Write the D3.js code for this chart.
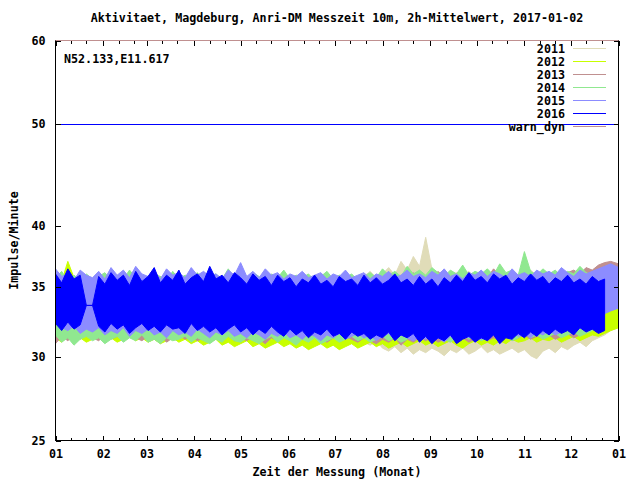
<!DOCTYPE html>
<html><head><meta charset="utf-8">
<script src="https://cdn.jsdelivr.net/npm/d3@7"></script>
<style>
html,body{margin:0;padding:0;background:#fff;}
svg text{font-family:"DejaVu Sans Mono","Liberation Mono",monospace;font-weight:bold;font-size:11.7px;fill:#000;}
</style></head>
<body>
<svg id="c" width="640" height="480"></svg>
<script>
// ---- data ----
const titleText = "Aktivitaet, Magdeburg, Anri-DM Messzeit 10m, 2h-Mittelwert, 2017-01-02";
const yLabel = "Impulse/Minute";
const xLabel = "Zeit der Messung (Monat)";
const station = "N52.133,E11.617";
const yTicks = [25, 30, 35, 40, 50, 60];
const monthStarts = [0,31,59,90,120,151,181,212,243,273,304,334,365];
const monthLabels = ["01","02","03","04","05","06","07","08","09","10","11","12","01"];
const sampleDays = [0,4,8,12,16,20,24,28,32,36,40,44,48,52,56,60,64,68,72,76,80,84,88,92,96,100,104,108,112,116,120,124,128,132,136,140,144,148,152,156,160,164,168,172,176,180,184,188,192,196,200,204,208,212,216,220,224,228,232,236,240,244,248,252,256,260,264,268,272,276,280,284,288,292,296,300,304,308,312,316,320,324,328,332,336,340,344,348,352,356,360,365];
const seriesNames = ["2011","2012","2013","2014","2015","2016"];
const warnLevel = 50;
const warnDyn = 60;

// upper / lower envelope of the 2h means per 4-day sample
const hi2011 = [35.3,35.0,35.4,35.1,35.2,34.9,35.3,35.0,35.2,35.1, 34.9,35.3,35.0,35.2,34.8,35.1,35.3,35.0,35.2,34.9, 35.1,35.3,35.0,35.2,34.9,35.1,35.4,35.0,35.2,35.1, 35.3,35.0,35.2,34.9,35.1,35.3,35.0,35.2,35.4,35.1, 35.3,35.5,35.2,35.4,35.6,35.3,35.5,35.7,35.4,35.6, 35.8,36.2,35.7,36.0,36.5,35.9,37.0,36.3,37.4,36.6, 39.0,36.4,36.0,36.3,35.8,36.1,35.9,36.2,35.7,36.0, 35.8,36.1,35.7,35.9,36.2,35.8,36.0,36.3,35.9,36.1, 35.8,36.0,35.7,35.9,35.6,35.8,35.5,35.7,35.4,35.6, 35.5,35.4];
const lo2011 = [31.8,31.6,31.9,31.7,32.0,31.8,31.6,31.9,31.7,31.8, 31.6,31.9,31.7,31.8,31.5,31.7,31.9,31.6,31.8,31.5, 31.7,31.4,31.6,31.8,31.5,31.3,31.6,31.4,31.7,31.3, 31.5,31.3,31.6,31.2,31.4,31.1,31.3,31.0,31.2,31.4, 31.1,31.3,31.0,31.2,30.9,31.1,31.3,31.0,31.2,30.9, 31.0,30.8,31.1,30.6,30.4,30.7,30.3,30.6,30.2,30.5, 30.3,30.6,30.4,30.1,30.5,30.3,30.6,30.2,30.4,30.7, 30.3,30.5,30.2,30.4,30.6,30.3,30.5,30.1,29.9,30.4, 30.6,30.3,30.7,30.5,30.8,31.0,30.7,31.1,31.3,31.5, 31.8,32.0];
const hi2012 = [35.6,35.4,37.0,35.7,35.3,35.5,35.2,35.6,35.4,35.3, 35.5,35.2,35.6,35.3,35.5,35.4,35.2,35.6,35.3,35.5, 35.2,35.4,35.6,35.3,35.5,35.2,35.4,35.3,35.6,35.2, 35.4,35.3,35.5,35.2,35.4,35.6,35.3,35.2,35.5,35.3, 35.2,35.4,35.3,35.5,35.2,35.4,35.1,35.3,35.5,35.2, 35.4,35.2,35.5,35.3,35.1,35.4,35.2,35.5,35.3,35.4, 35.2,35.5,35.3,35.4,35.6,35.3,35.5,35.2,35.4,35.6, 35.3,35.5,35.7,35.4,35.6,35.3,35.5,35.7,35.4,35.6, 35.5,35.7,35.4,35.6,35.8,35.5,35.7,35.9,36.0,36.1, 36.2,36.0];
const lo2012 = [31.3,31.0,31.4,31.1,31.3,31.0,31.2,31.4,31.1,31.3, 31.0,31.2,31.4,31.1,31.3,31.0,31.2,30.9,31.1,31.3, 31.0,31.2,30.9,31.1,30.8,31.0,31.2,30.8,31.0,30.7, 30.9,31.1,30.7,30.9,30.6,30.8,31.0,30.7,30.9,30.6, 30.8,30.5,30.7,30.9,30.6,30.8,30.5,30.7,30.9,30.6, 30.8,31.0,30.7,30.9,30.6,30.8,31.0,30.7,30.9,31.1, 30.8,31.0,30.7,30.9,31.1,30.8,30.6,30.9,31.1,30.8, 31.0,30.8,31.1,30.9,31.2,31.0,31.1,31.3,31.0,31.2, 31.1,31.3,31.0,31.2,31.4,31.1,31.3,31.5,31.4,31.6, 31.8,32.0];
const hi2013 = [35.5,35.2,35.6,35.3,35.7,35.4,35.2,35.6,35.3,35.5, 35.2,35.7,35.4,35.5,35.2,35.6,35.3,35.8,35.4,35.5, 35.3,35.6,35.2,35.5,35.7,35.3,35.6,35.4,35.2,35.5, 35.8,35.4,35.6,35.3,35.5,35.2,35.7,35.4,35.6,35.3, 35.5,35.7,35.3,35.6,35.4,35.2,35.6,35.4,35.7,35.3, 35.5,35.8,35.4,35.6,36.0,35.5,35.7,35.4,36.1,35.6, 35.8,35.5,36.2,35.7,35.9,35.6,36.3,35.8,35.6,36.0, 35.7,36.4,35.9,35.6,36.0,35.8,36.1,35.7,35.9,36.2, 35.8,36.0,35.7,36.1,36.3,36.0,36.5,36.3,36.7,36.9, 37.0,36.8];
const lo2013 = [30.9,31.4,31.1,31.5,31.2,31.6,31.3,31.1,31.5,31.2, 31.4,31.2,31.6,31.3,31.1,31.4,31.2,31.5,31.0,31.3, 31.5,31.2,31.4,31.1,31.3,31.0,31.4,31.2,31.5,31.1, 31.3,31.1,31.4,31.2,30.9,31.3,31.1,31.4,31.2,31.0, 31.3,31.1,31.4,31.2,31.0,31.3,31.1,31.4,31.2,31.0, 31.3,31.1,30.9,31.2,31.0,31.3,30.8,31.2,31.0,31.3, 31.1,31.3,31.0,31.2,31.4,31.1,31.3,31.0,31.2,31.4, 31.1,31.3,31.2,31.4,31.1,31.3,31.5,31.2,31.4,31.3, 31.5,31.2,31.4,31.6,31.3,31.5,31.7,32.0,32.8,33.6, 34.2,34.5];
const hi2014 = [35.7,36.2,35.4,35.9,35.5,36.0,35.6,35.8,36.1,35.5, 35.9,35.6,36.3,35.7,35.9,35.4,36.0,35.8,35.5,36.2, 35.6,35.9,35.7,36.1,35.5,35.8,36.0,35.6,36.4,35.7, 35.9,35.6,36.1,35.8,35.5,36.0,35.7,36.3,35.6,35.9, 35.7,36.0,35.5,35.8,36.2,35.6,35.9,35.7,36.0,35.5, 35.8,36.1,35.7,36.4,35.9,36.2,35.8,36.6,36.0,36.3, 35.9,36.5,36.1,35.8,36.3,36.0,36.7,35.9,36.2,36.0, 36.4,35.9,36.8,36.1,36.3,35.9,37.8,36.2,35.9,36.4, 36.0,36.3,35.8,36.2,36.0,36.6,36.1,35.9,36.2,35.8, 36.0,35.7];
const lo2014 = [31.5,31.0,31.3,30.8,31.2,31.4,31.1,31.3,30.9,31.2, 31.4,31.0,31.3,31.1,31.5,31.0,31.2,30.9,31.3,31.1, 31.2,31.4,31.0,31.3,31.1,30.9,31.2,31.0,31.4,31.1, 31.0,31.3,31.1,30.9,31.2,31.4,31.0,31.3,31.1,30.8, 31.2,31.0,31.3,30.9,31.1,31.3,31.0,31.2,31.4,31.1, 31.3,31.0,31.2,31.4,31.1,31.3,31.0,31.2,31.5,31.1, 31.3,31.1,31.4,31.2,31.0,31.3,31.5,31.2,31.4,31.1, 31.3,31.5,31.2,31.4,31.1,31.3,31.6,31.3,31.5,31.2, 31.4,31.6,31.3,31.5,31.7,31.4,31.6,31.8,32.4,33.2, 33.6,33.9];
const hi2015 = [36.4,35.8,36.0,35.5,36.3,35.9,35.7,36.2,35.6,36.5, 35.9,36.3,35.7,36.6,36.0,35.8,36.2,35.6,36.4,35.9, 36.1,35.7,36.5,35.9,36.2,35.8,36.0,35.6,36.3,35.9, 36.9,35.8,36.2,35.7,36.4,35.9,36.1,35.6,36.0,35.8, 36.2,35.7,35.9,36.1,35.6,36.0,35.8,36.3,35.7,35.9, 36.1,35.6,36.0,35.8,36.2,35.7,35.9,36.3,35.8,36.0, 35.7,36.2,35.9,36.4,35.8,36.0,35.6,36.1,35.9,36.3, 35.8,36.2,36.0,35.7,36.4,35.9,36.1,35.8,36.3,36.0, 36.2,35.9,36.5,36.1,35.8,36.3,36.0,36.2,36.4,36.6, 36.8,36.5];
const lo2015 = [32.8,32.0,31.8,32.1,31.6,31.9,31.7,32.0,31.5,31.8, 31.6,32.0,31.4,31.8,31.6,31.9,31.5,31.7,31.3,31.8, 31.5,31.7,31.4,31.9,31.6,31.3,31.7,31.5,31.8,31.4, 31.6,31.3,31.7,31.5,31.2,31.6,31.4,31.7,31.3,31.5, 31.2,31.6,31.4,31.1,31.5,31.3,31.6,31.2,31.4,31.6, 31.3,31.5,31.1,31.4,31.6,31.2,31.5,31.3,31.1,31.4, 31.2,31.5,31.3,31.0,31.4,31.2,31.5,31.3,31.6,31.2, 31.4,31.6,31.3,31.5,31.7,31.4,31.6,31.3,31.7,31.5, 31.8,31.5,31.7,31.9,31.6,32.0,31.8,32.3,32.6,33.0, 33.2,33.4];
const hi2016 = [36.0,35.3,36.4,35.6,35.9,33.6,33.6,35.8,35.2,36.1, 35.5,35.9,35.1,36.2,35.4,35.8,36.5,35.3,35.9,35.5, 36.3,35.2,35.7,36.0,35.4,36.6,35.6,35.9,35.3,36.1, 35.7,35.2,36.0,35.5,35.8,35.1,35.9,35.4,35.7,35.0, 35.6,35.3,35.9,35.2,35.5,35.0,35.8,35.4,35.6,35.1, 35.9,35.3,35.7,35.2,35.5,36.0,35.3,35.6,35.1,35.8, 35.2,35.6,35.0,35.7,35.3,35.9,35.4,36.1,35.5,35.8, 35.3,36.0,35.6,35.9,35.2,35.7,35.4,36.0,35.5,35.8, 35.2,35.7,35.4,35.9,35.3,35.6,35.2,35.8,35.4,35.6, null,null];
const lo2016 = [32.3,31.8,32.4,31.9,32.2,33.6,33.6,32.1,31.7,32.3, 31.9,32.2,31.6,32.0,32.3,31.8,32.1,31.7,32.2,31.9, 32.0,31.6,32.3,31.8,32.1,31.7,32.0,31.5,31.9,32.2, 31.7,32.0,31.5,31.9,31.6,32.1,31.7,31.4,31.9,31.5, 31.8,31.3,31.7,31.5,31.9,31.4,31.6,31.2,31.7,31.4, 31.6,31.2,31.5,31.3,31.7,31.1,31.5,31.3,31.6,31.0, 31.4,30.9,31.3,31.1,31.5,30.9,31.2,31.4,31.0,31.3, 31.1,31.5,30.9,31.3,31.2,31.6,31.3,31.7,31.4,31.8, 31.5,31.9,31.6,31.8,31.5,32.0,31.7,31.9,31.6,31.8, null,null];

const seriesHi = [hi2011, hi2012, hi2013, hi2014, hi2015, hi2016];
const seriesLo = [lo2011, lo2012, lo2013, lo2014, lo2015, lo2016];
const colors = ["#e0dcb8","#c8ff00","#c09090","#90e890","#8c8cff","#0000ff"];
const warnDynColor = "#c09090";

// ---- layout ----
const L = 55.5, R = 618.5, T = 40.5, B = 440.5;
const svg = d3.select("#c");
const x = d3.scaleLinear().domain([0, 365]).range([L, R]);
const y = d3.scaleLog().domain([25, 60]).range([B, T]);

// data bands
const g = svg.append("g");
seriesNames.forEach((name, k) => {
  const hi = seriesHi[k], lo = seriesLo[k];
  const pts = sampleDays.map((d, i) => ({d, h: hi[i], l: lo[i]}));
  const area = d3.area()
    .defined(p => p.h != null && p.l != null)
    .x(p => x(p.d)).y0(p => y(p.l)).y1(p => y(p.h));
  g.append("path").attr("d", area(pts)).attr("fill", colors[k])
    .attr("stroke", colors[k]).attr("stroke-width", 1).attr("stroke-linejoin", "miter");
});

// warn line at 50
svg.append("line").attr("x1", L).attr("x2", R)
  .attr("y1", Math.round(y(warnLevel)) + 0.5).attr("y2", Math.round(y(warnLevel)) + 0.5)
  .attr("stroke", "#0000ff").attr("stroke-width", 1);

// frame
svg.append("rect").attr("x", L).attr("y", T).attr("width", R - L).attr("height", B - T)
  .attr("fill", "none").attr("stroke", "#000").attr("stroke-width", 1);

// warn_dyn at top
svg.append("line").attr("x1", L).attr("x2", R)
  .attr("y1", y(warnDyn)).attr("y2", y(warnDyn))
  .attr("stroke", warnDynColor).attr("stroke-width", 1);

function styleTicks(sel) {
  sel.select(".domain").remove();
  sel.selectAll(".tick line").attr("stroke", "#000").attr("shape-rendering", "crispEdges");
  sel.selectAll(".tick text").attr("font-family", null).attr("font-size", null);
}

// y ticks
const gy = svg.append("g").attr("transform", `translate(${L},0)`)
  .call(d3.axisLeft(y).tickValues(yTicks).tickFormat(d3.format("d")).tickSizeInner(-5).tickSizeOuter(0).tickPadding(10));
styleTicks(gy);
const gyR = svg.append("g").attr("transform", `translate(${R},0)`)
  .call(d3.axisRight(y).tickValues(yTicks).tickFormat("").tickSizeInner(-5).tickSizeOuter(0));
styleTicks(gyR);

// x ticks
const minorDays = [];
monthStarts.slice(0, 12).forEach(m => { minorDays.push(m + 10, m + 20); });
const gx = svg.append("g").attr("transform", `translate(0,${B})`)
  .call(d3.axisBottom(x).tickValues(monthStarts).tickFormat((d, i) => monthLabels[i]).tickSizeInner(-5).tickSizeOuter(0).tickPadding(9));
styleTicks(gx);
const gxm = svg.append("g").attr("transform", `translate(0,${B})`)
  .call(d3.axisBottom(x).tickValues(minorDays).tickFormat("").tickSizeInner(-3).tickSizeOuter(0));
styleTicks(gxm);
const gxt = svg.append("g").attr("transform", `translate(0,${T})`)
  .call(d3.axisTop(x).tickValues(monthStarts).tickFormat("").tickSizeInner(-5).tickSizeOuter(0));
styleTicks(gxt);
const gxtm = svg.append("g").attr("transform", `translate(0,${T})`)
  .call(d3.axisTop(x).tickValues(minorDays).tickFormat("").tickSizeInner(-3).tickSizeOuter(0));
styleTicks(gxtm);

// texts
svg.append("text").attr("x", (L + R) / 2).attr("y", 22).attr("text-anchor", "middle").text(titleText);
svg.append("text").attr("x", (L + R) / 2).attr("y", 476).attr("text-anchor", "middle").text(xLabel);
svg.append("text").attr("transform", `translate(18,${(T + B) / 2}) rotate(-90)`).attr("text-anchor", "middle").text(yLabel);
svg.append("text").attr("x", 64).attr("y", 63).text(station);

// legend
const legNames = seriesNames.concat(["warn_dyn"]);
const legColors = colors.concat([warnDynColor]);
legNames.forEach((n, i) => {
  const cy = 48.5 + i * 13;
  svg.append("text").attr("x", 565).attr("y", cy + 4).attr("text-anchor", "end").text(n);
  svg.append("line").attr("x1", 573).attr("x2", 606).attr("y1", cy).attr("y2", cy)
    .attr("stroke", legColors[i]).attr("stroke-width", 1);
});
</script>
</body></html>
